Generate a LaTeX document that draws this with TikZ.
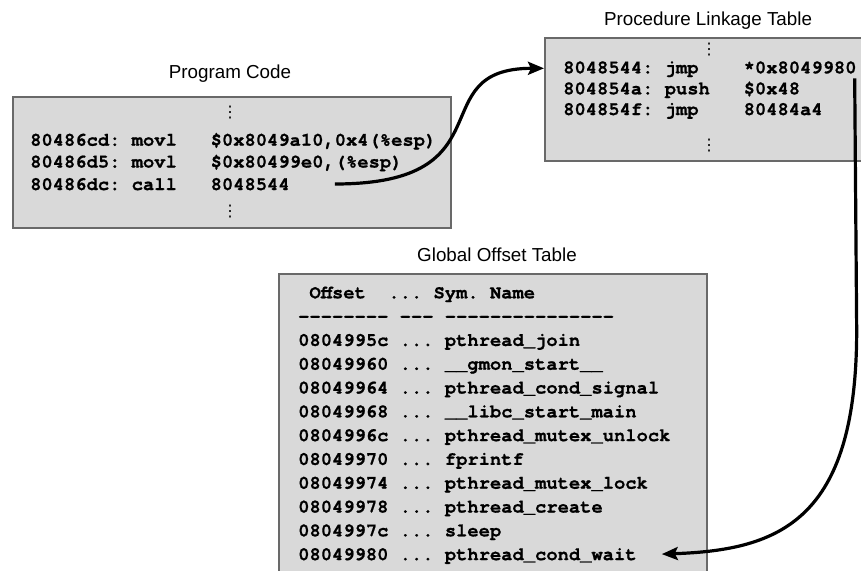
\documentclass[tikz,border=0pt]{standalone}
\usepackage{fontspec}
\setmainfont{Liberation Sans}
\setmonofont{TeX Gyre Cursor}[BoldFeatures={FakeBold=0.8}]
\newfontfamily\dotsfont{DejaVu Sans}
\usetikzlibrary{arrows.meta,calc}
\definecolor{boxfill}{RGB}{217,217,217}
\definecolor{boxline}{RGB}{105,105,105}

\begin{document}
\begin{tikzpicture}[x=1pt,y=-1pt,
  panel/.style={draw=boxline, line width=1.5pt, fill=boxfill, anchor=north west, inner sep=0pt},
  caption/.style={font=\fontsize{18.8}{22}\selectfont, inner sep=0pt, anchor=base},
  code/.style={font=\ttfamily\bfseries\fontsize{18.8}{22}\selectfont, inner sep=0pt, anchor=base west},
  ell/.style={font=\dotsfont\fontsize{16}{18}\selectfont, inner sep=0pt},
  link/.style={line width=3.2pt, -{Stealth[length=16pt,width=13pt,inset=3pt]}}]

\useasboundingbox (0,0) rectangle (861,570);

% panels
\node[panel, minimum width=438pt, minimum height=131pt] (progbox) at (12,96) {};
\node[panel, minimum width=340pt, minimum height=123pt] (pltbox) at (544,37) {};
\node[panel, minimum width=428pt, minimum height=320pt] (gotbox) at (278,273) {};

% titles
\node[caption] (progtitle) at (230,78) {Program Code};
\node[caption] (plttitle) at (708,25) {Procedure Linkage Table};
\node[caption] (gottitle) at (497,261.7) {Global Offset Table};

% program code
\node[ell] (pdtop) at (230,113) {⋮};
\node[code] (p1) at (30,145.7) {80486cd: movl~~~\$0x8049a10,0x4(\%esp)};
\node[code] (p2) at (30,167.5) {80486d5: movl~~~\$0x80499e0,(\%esp)};
\node[code] (p3) at (30,190) {80486dc: call~~~8048544};
\node[ell] (pdbot) at (230,211.5) {⋮};

% procedure linkage table
\node[ell] (qdtop) at (709,50) {⋮};
\node[code] (q1) at (563,73.3) {8048544: jmp~~~~*0x8049980};
\node[code] (q2) at (563,94.3) {804854a: push~~~\$0x48};
\node[code] (q3) at (563,115) {804854f: jmp~~~~80484a4};
\node[ell] (qdbot) at (709,145.5) {⋮};

% global offset table
\node[code] (g0) at (298,298.3) {~Offset~~...~Sym.~Name};
\node[code] (g1) at (298,322.1) {--------~---~---------------};
\node[code] (g2) at (298,345.9) {0804995c ... pthread\_join};
\node[code] (g3) at (298,369.7) {08049960 ... \_\_gmon\_start\_\_};
\node[code] (g4) at (298,393.5) {08049964 ... pthread\_cond\_signal};
\node[code] (g5) at (298,417.3) {08049968 ... \_\_libc\_start\_main};
\node[code] (g6) at (298,441.1) {0804996c ... pthread\_mutex\_unlock};
\node[code] (g7) at (298,464.9) {08049970 ... fprintf};
\node[code] (g8) at (298,488.7) {08049974 ... pthread\_mutex\_lock};
\node[code] (g9) at (298,512.5) {08049978 ... pthread\_create};
\node[code] (g10) at (298,536.3) {0804997c ... sleep};
\node[code] (g11) at (298,560.1) {08049980 ... pthread\_cond\_wait};

% call -> PLT entry
\coordinate (callsrc) at ($(p3.base east)+(45,-6)$);
\coordinate (pltdst) at ($(q1.base west)+(-19,-5)$);
\draw[link] (callsrc) .. controls +(176,0) and +(-124,0) .. (pltdst);

% PLT indirect jump -> GOT slot
\coordinate (gotsrc) at ($(q1.base east)+(-2,5)$);
\coordinate (gotdst) at ($(g11.base east)+(25,-6)$);
\coordinate (bend) at ($(gotsrc)+(2,252)$);
\draw[link] (gotsrc) -- (bend) .. controls +(0,190) and +(118,-4) .. (gotdst);

\end{tikzpicture}
\end{document}
